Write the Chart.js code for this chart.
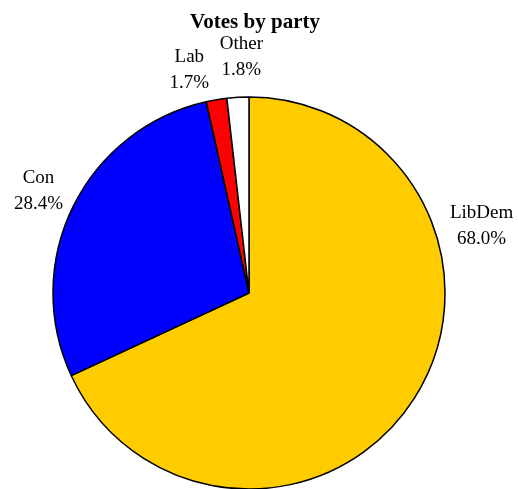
<!DOCTYPE html>
<html>
<head>
<meta charset="utf-8">
<script src="https://cdn.jsdelivr.net/npm/chart.js@4.4.0/dist/chart.umd.min.js"></script>
<style>
  html, body { margin: 0; padding: 0; background: #fff; }
  #wrap { width: 519px; height: 489px; }
</style>
</head>
<body>
<div id="wrap"><canvas id="myChart" width="519" height="489"></canvas></div>
<script>
// Chart data
const parties = ["LibDem", "Con", "Lab", "Other"]
const shares = [68.0, 28.4, 1.7, 1.8]
const partyColours = ["#FFCC00", "#0000FF", "#FF0000", "#FFFFFF"]
const chartTitle = "Votes by party"

// label placement: distance from centre (in radii), and angle nudges (degrees) per slice
const labelDist = [1.235, 1.194, 1.18, 1.205]
const labelNudge = [-48.6, -0.3, -5.4, 1.4]

const serif = "'Liberation Serif', 'Times New Roman', serif"

// draws the title and the outside labels
const pieText = {
    id: 'pieText',
    afterDraw(chart) {
        const c = chart.ctx
        const arcs = chart.getDatasetMeta(0).data
        c.save()
        c.fillStyle = '#000'
        c.textAlign = 'center'
        c.textBaseline = 'middle'

        c.font = `bold 21px ${serif}`
        c.fillText(chartTitle, 255, 23)

        c.font = `19px ${serif}`
        arcs.forEach((arc, i) => {
            const mid = (arc.startAngle + arc.endAngle) / 2 + labelNudge[i] * Math.PI / 180
            const r = arc.outerRadius * labelDist[i]
            const x = arc.x + Math.cos(mid) * r
            const y = arc.y + Math.sin(mid) * r
            c.fillText(parties[i], x, y - 13)
            c.fillText(shares[i].toFixed(1) + '%', x, y + 13)
        })
        c.restore()
    }
}

const ctx = document.getElementById('myChart')

new Chart(ctx, {
    type: 'pie',
    data: {
        labels: parties,
        datasets: [{
            data: shares,
            backgroundColor: partyColours,
            borderColor: '#000',
            borderWidth: 1.5,
            borderAlign: 'center'
        }]
    },
    options: {
        responsive: false,
        animation: false,
        radius: 196,
        layout: {
            padding: { left: 53, right: 74, top: 97, bottom: 0 }
        },
        plugins: {
            legend: { display: false },
            tooltip: { enabled: false },
            title: { display: false }
        }
    },
    plugins: [pieText]
})
</script>
</body>
</html>
